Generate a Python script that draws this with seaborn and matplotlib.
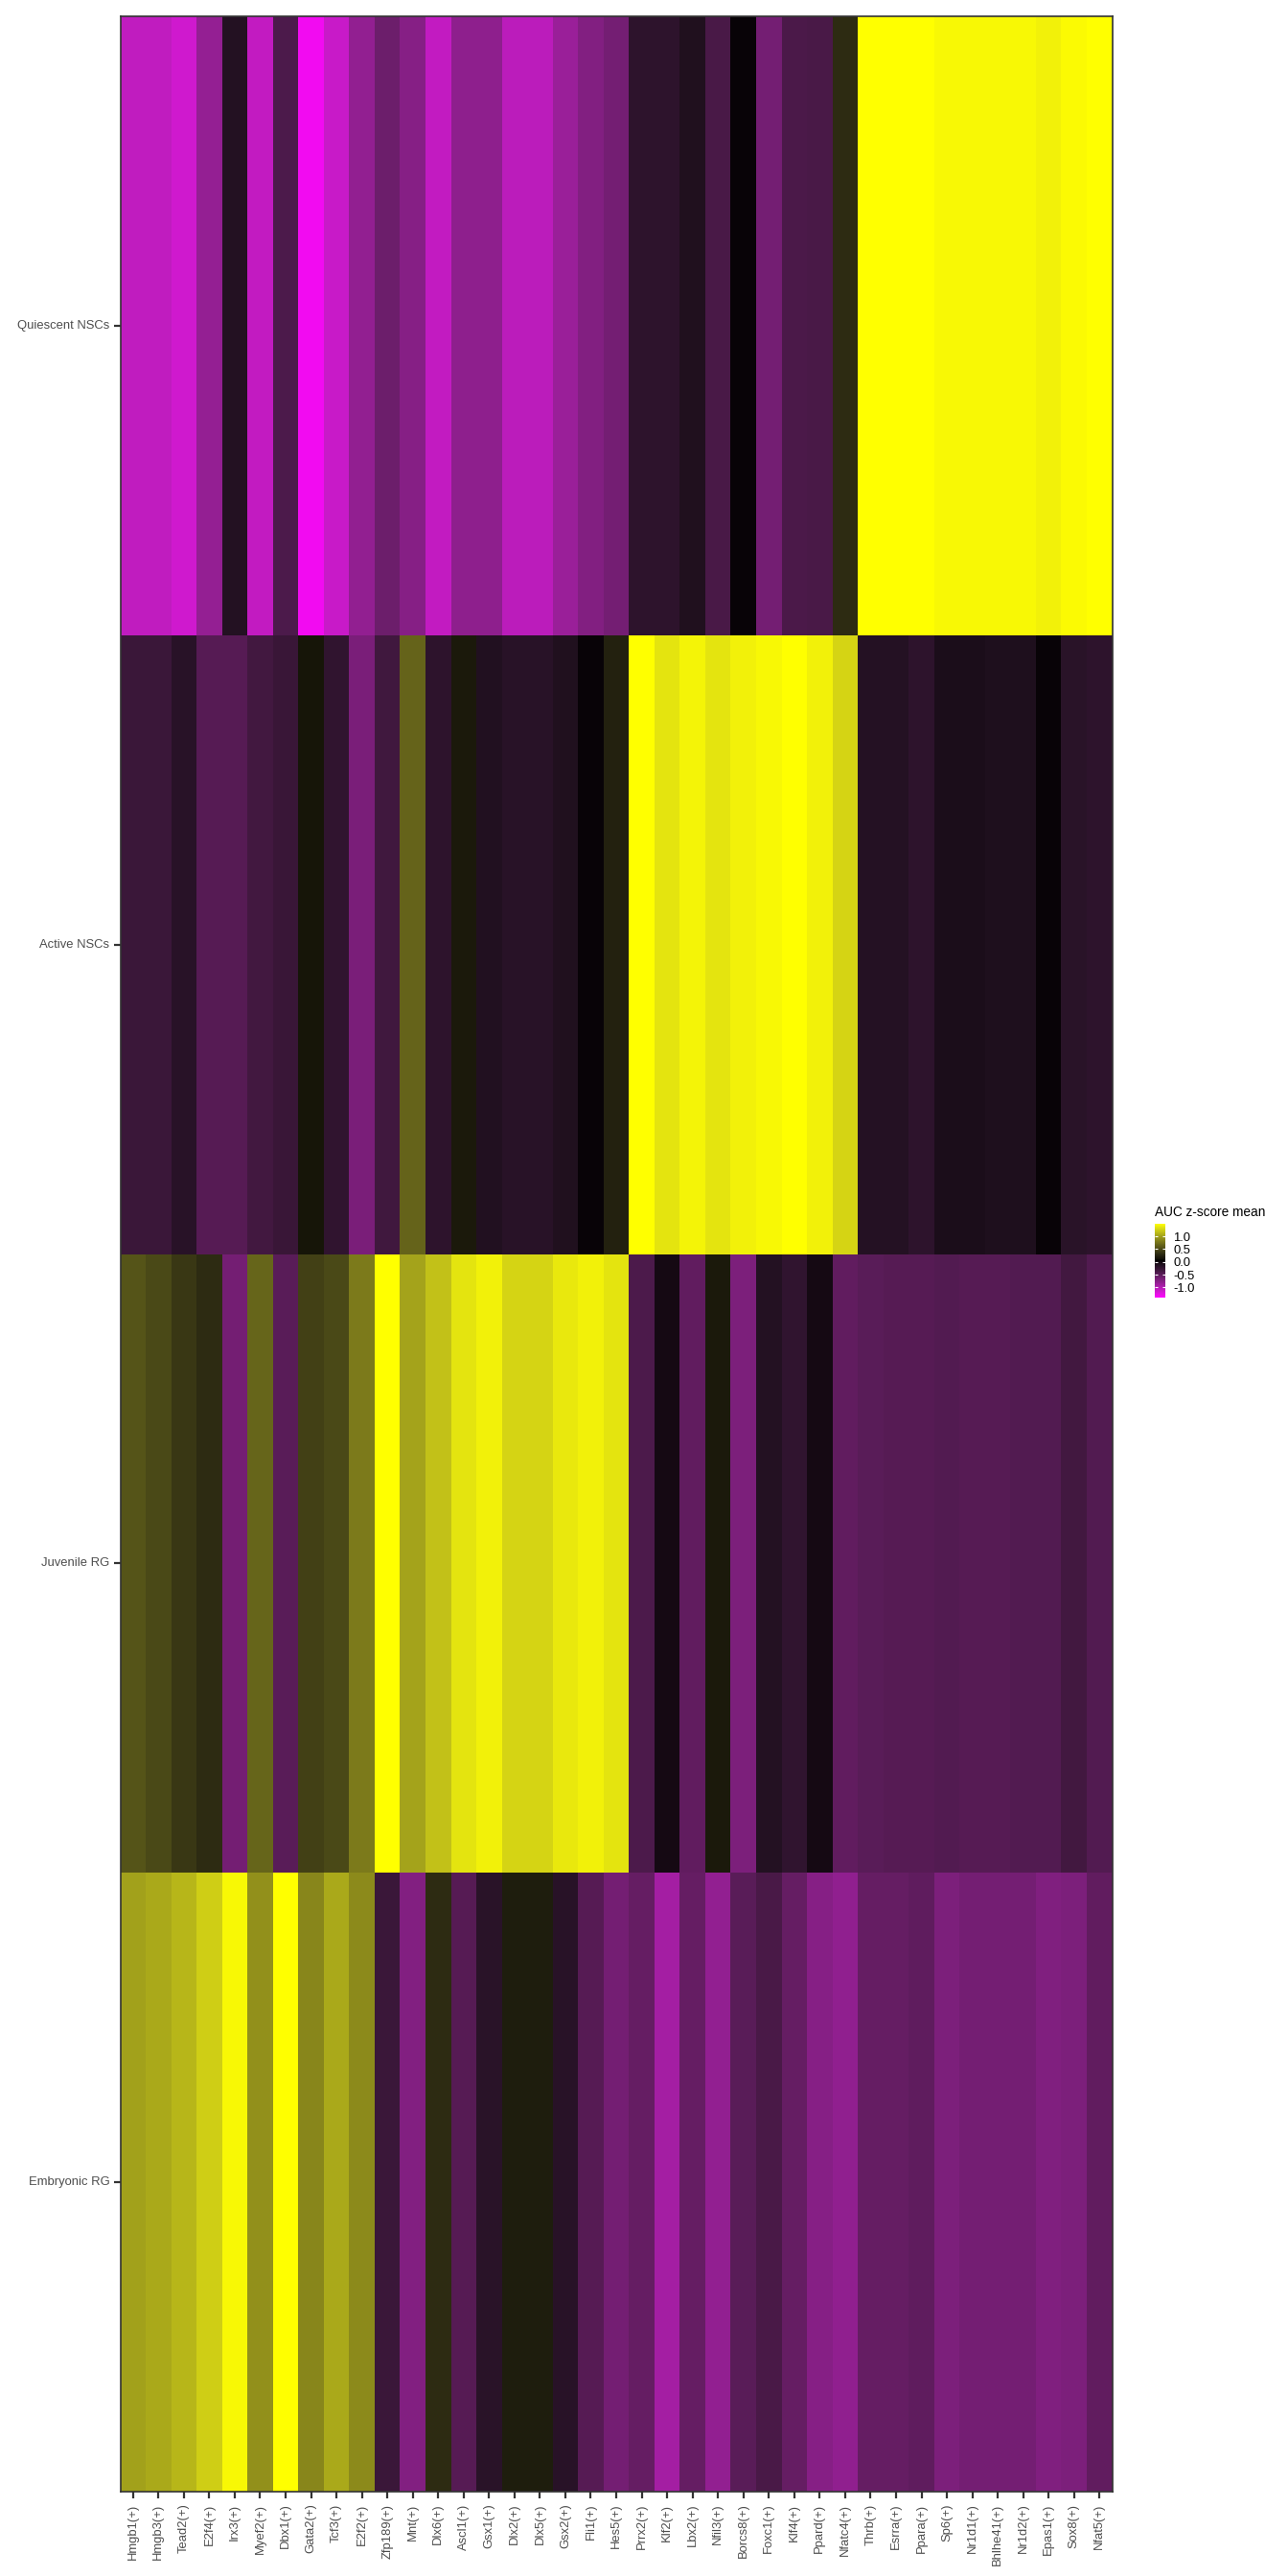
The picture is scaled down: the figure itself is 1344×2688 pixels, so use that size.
import matplotlib as mpl
import matplotlib.pyplot as plt
import seaborn as sns
import numpy as np
import pandas as pd
from matplotlib.colors import ListedColormap

# regulons (columns) and cell groups (rows)
regulons = ['Hmgb1(+)', 'Hmgb3(+)', 'Tead2(+)', 'E2f4(+)', 'Irx3(+)', 'Myef2(+)', 'Dbx1(+)',
            'Gata2(+)', 'Tcf3(+)', 'E2f2(+)', 'Zfp189(+)', 'Mnt(+)', 'Dlx6(+)', 'Ascl1(+)',
            'Gsx1(+)', 'Dlx2(+)', 'Dlx5(+)', 'Gsx2(+)', 'Fli1(+)', 'Hes5(+)', 'Prrx2(+)',
            'Klf2(+)', 'Lbx2(+)', 'Nfil3(+)', 'Borcs8(+)', 'Foxc1(+)', 'Klf4(+)', 'Ppard(+)',
            'Nfatc4(+)', 'Thrb(+)', 'Esrra(+)', 'Ppara(+)', 'Sp6(+)', 'Nr1d1(+)', 'Bhlhe41(+)',
            'Nr1d2(+)', 'Epas1(+)', 'Sox8(+)', 'Nfat5(+)']
groups = ['Quiescent NSCs', 'Active NSCs', 'Juvenile RG', 'Embryonic RG']

# AUC z-score mean
quiescent = [-1.07, -1.07, -1.14, -0.83, -0.14, -1.08, -0.41, -1.33, -1.11, -0.82,
             -0.60, -0.75, -1.08, -0.79, -0.79, -1.04, -1.04, -0.86, -0.73, -0.65,
             -0.20, -0.20, -0.11, -0.39, 0.02, -0.65, -0.40, -0.39, 0.31, 1.50,
             1.50, 1.49, 1.46, 1.46, 1.46, 1.46, 1.43, 1.47, 1.50]
active = [-0.30, -0.30, -0.17, -0.46, -0.46, -0.34, -0.28, 0.15, -0.23, -0.68,
          -0.33, 0.66, -0.20, 0.18, -0.12, -0.17, -0.17, -0.11, 0.02, 0.24,
          1.50, 1.36, 1.44, 1.36, 1.43, 1.46, 1.50, 1.43, 1.28, -0.15,
          -0.15, -0.20, -0.08, -0.08, -0.10, -0.10, 0.02, -0.18, -0.20]
juvenile = [0.56, 0.50, 0.38, 0.31, -0.65, 0.67, -0.49, 0.44, 0.50, 0.79,
            1.50, 1.02, 1.18, 1.36, 1.43, 1.28, 1.28, 1.38, 1.43, 1.36,
            -0.41, -0.04, -0.53, 0.18, -0.69, -0.14, -0.23, -0.04, -0.53, -0.49,
            -0.46, -0.46, -0.44, -0.46, -0.46, -0.44, -0.44, -0.34, -0.44]
embryonic = [1.01, 1.05, 1.12, 1.25, 1.46, 0.92, 1.50, 0.86, 1.05, 0.88,
             -0.30, -0.73, 0.31, -0.46, -0.18, 0.20, 0.20, -0.17, -0.46, -0.65,
             -0.56, -0.92, -0.56, -0.82, -0.49, -0.39, -0.56, -0.75, -0.81, -0.56,
             -0.56, -0.52, -0.69, -0.65, -0.65, -0.65, -0.72, -0.69, -0.53]

cbar_ticks = [-1.0, -0.5, 0.0, 0.5, 1.0]


def lab_to_srgb(lab):
    # CIELAB (D65) -> sRGB, clipped
    L, a, b = lab[:, 0], lab[:, 1], lab[:, 2]
    fy = (L + 16) / 116
    fx = fy + a / 500
    fz = fy - b / 200
    finv = lambda f: np.where(f > 6 / 29, f ** 3, 3 * (6 / 29) ** 2 * (f - 4 / 29))
    xyz = np.stack([0.95047 * finv(fx), finv(fy), 1.08883 * finv(fz)], axis=1)
    m = np.array([[3.2406, -1.5372, -0.4986],
                  [-0.9689, 1.8758, 0.0415],
                  [0.0557, -0.2040, 1.0570]])
    lin = np.clip(xyz @ m.T, 0, 1)
    srgb = np.where(lin <= 0.0031308, 12.92 * lin, 1.055 * lin ** (1 / 2.4) - 0.055)
    return np.clip(srgb, 0, 1)


# magenta -> black -> yellow, interpolated in Lab like ggplot's gradientn
magenta_lab = np.array([60.32, 98.23, -60.82])
black_lab = np.array([0.0, 0.0, 0.0])
yellow_lab = np.array([97.14, -21.55, 94.48])
t = np.linspace(0, 1, 256)[:, None]
lab = np.where(t < 0.5,
               magenta_lab + (black_lab - magenta_lab) * (t / 0.5),
               black_lab + (yellow_lab - black_lab) * ((t - 0.5) / 0.5))
cmap = ListedColormap(lab_to_srgb(lab))

mpl.rcParams['font.family'] = ['Liberation Sans', 'DejaVu Sans']
mpl.rcParams['axes.unicode_minus'] = False

df = pd.DataFrame([quiescent, active, juvenile, embryonic], index=groups, columns=regulons)

fig = plt.figure(figsize=(13.44, 26.88), dpi=100)
ax = fig.add_axes([0.0934, 0.0327, 0.7701, 0.961])
cax = fig.add_axes([0.8966, 0.4963, 0.0082, 0.0287])

sns.heatmap(df, ax=ax, cmap=cmap, vmin=-1.4, vmax=1.5, cbar_ax=cax,
            cbar_kws=dict(ticks=cbar_ticks))

for s in ax.spines.values():
    s.set_visible(True)
    s.set_color('#333333')
    s.set_linewidth(1.2)

ax.tick_params(axis='both', length=5, width=1.6, color='#333333', labelcolor='#4D4D4D',
               labelsize=9.4)
ax.tick_params(axis='y', pad=3)
ax.tick_params(axis='x', pad=4)
ax.set_xticklabels(regulons, rotation=90)
ax.set_yticklabels(groups, rotation=0)
ax.set_xlabel('')
ax.set_ylabel('')

# legend bar
cax.set_yticklabels(['%.1f' % t for t in cbar_ticks])
cax.tick_params(direction='in', color='white', length=2.5, width=0.8, left=True, right=True,
                labelsize=9.4, labelcolor='black', pad=6)
for s in cax.spines.values():
    s.set_visible(False)
fig.text(0.8966, 1 - 1265 / 2688, 'AUC z-score mean', fontsize=9.8, va='center', ha='left')

plt.savefig('out.png', dpi=100)
